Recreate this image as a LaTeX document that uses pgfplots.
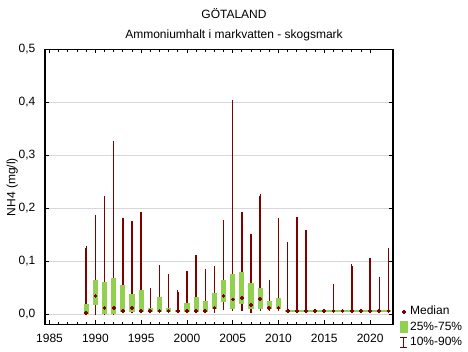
\documentclass[border=0pt]{standalone}
\usepackage{fontspec}
\setmainfont{Liberation Sans}
\usepackage{pgfplots}
\usepackage{pgfplotstable}
\pgfplotsset{compat=1.18}
\definecolor{medred}{RGB}{128,0,0}
\definecolor{boxgreen}{RGB}{146,208,80}
\definecolor{gridgray}{RGB}{215,215,215}

\pgfplotstableread{
year p10 q25 med q75 p90
1989 0.001 0.001 0.002 0.019 0.126
1990 0.001 0.018 0.035 0.065 0.184
1991 0.001 0.001 0.012 0.061 0.220
1992 0.001 0.001 0.012 0.068 0.323
1993 0.005 0.005 0.006 0.055 0.179
1994 0.005 0.005 0.012 0.038 0.172
1995 0.005 0.005 0.006 0.046 0.189
1996 0.005 0.005 0.006 0.012 0.047
1997 0.005 0.005 0.006 0.033 0.089
1998 0.005 0.005 0.006 0.012 0.072
1999 0.005 0.005 0.006 0.008 0.042
2000 0.005 0.005 0.006 0.021 0.079
2001 0.005 0.005 0.006 0.033 0.109
2002 0.005 0.005 0.006 0.025 0.083
2003 0.006 0.010 0.012 0.040 0.087
2004 0.011 0.024 0.035 0.065 0.174
2005 0.010 0.010 0.028 0.076 0.402
2006 0.010 0.020 0.031 0.080 0.190
2007 0.006 0.010 0.018 0.059 0.149
2008 0.010 0.010 0.029 0.050 0.223
2009 0.010 0.010 0.012 0.025 0.061
2010 0.010 0.010 0.012 0.031 0.179
2011 0.006 0.006 0.006 0.006 0.134
2012 0.006 0.006 0.006 0.006 0.181
2013 0.006 0.006 0.006 0.006 0.155
2014 0.006 0.006 0.006 0.006 0.006
2015 0.006 0.006 0.006 0.006 0.006
2016 0.006 0.006 0.006 0.006 0.053
2017 0.006 0.006 0.006 0.006 0.006
2018 0.006 0.006 0.006 0.006 0.091
2019 0.006 0.006 0.006 0.006 0.006
2020 0.006 0.006 0.006 0.006 0.102
2021 0.006 0.006 0.006 0.006 0.068
2022 0.006 0.006 0.006 0.006 0.121
}\datatable

\begin{document}
\begin{tikzpicture}
\path[use as bounding box] (0,0) rectangle (351pt,263.25pt);
\node[font=\fontsize{9}{11}\selectfont] at (175.5pt,252.75pt) {GÖTALAND};
\node[font=\fontsize{9}{11}\selectfont] at (175.5pt,237pt) {Ammoniumhalt i markvatten - skogsmark};
\node[rotate=90, font=\fontsize{9}{11}\selectfont] at (9.2pt,123pt) {NH4 (mg/l)};
\begin{axis}[
  at={(33.75pt,20pt)}, anchor=south west,
  scale only axis, width=261pt, height=206.25pt,
  xmin=1984.5, xmax=2022.5, ymin=-0.019, ymax=0.5,
  xtick={1985,1990,1995,2000,2005,2010,2015,2020},
  minor x tick num=4,
  ytick={0,0.1,0.2,0.3,0.4,0.5},
  tick pos=both, tick align=inside,
  major tick length=3pt, minor tick length=2pt,
  every tick/.style={black, line width=0.6pt},
  axis line style={black, line width=0.9pt},
  ymajorgrids, grid style={gridgray, line width=0.8pt},
  /pgf/number format/assume math mode=true,
  tick label style={font=\fontsize{9}{11}\selectfont},
  xticklabel style={/pgf/number format/1000 sep={}, yshift=-3.75pt},
  yticklabel style={/pgf/number format/.cd, fixed, fixed zerofill, precision=1, use comma, /tikz/.cd, xshift=-3.75pt},
  legend style={at={(1.017,0.075)}, anchor=north west, draw=none, fill=none,
    font=\fontsize{9}{11}\selectfont, inner sep=0pt, row sep=0pt,
    nodes={inner sep=1.5pt, text height=6.6pt, text depth=2pt}},
  legend cell align=left,
]
\addlegendimage{legend image code/.code={\draw[medred, line width=1.3pt] (2.6pt,0pt)--(5.4pt,0pt) (4pt,-1.4pt)--(4pt,1.4pt);}}
\addlegendentry{Median}
\addlegendimage{legend image code/.code={\fill[boxgreen] (1.2pt,-4pt) rectangle (6.8pt,4.2pt);}}
\addlegendentry{25\%-75\%}
\addlegendimage{legend image code/.code={\draw[medred, line width=1.1pt] (4pt,-3.8pt)--(4pt,3.8pt) (1.2pt,-3.8pt)--(6.8pt,-3.8pt) (1.2pt,3.8pt)--(6.8pt,3.8pt);}}
\addlegendentry{10\%-90\%}

% whiskers 10%-90%
\addplot[draw=none, mark=none, forget plot,
  error bars/.cd, y dir=both, y explicit,
  error bar style={draw=medred, line width=1.1pt},
  error mark=-, error mark options={draw=medred, mark size=1.3pt, line width=1pt}]
  table[x=year, y expr={(\thisrow{p10}+\thisrow{p90})/2}, y error expr={(\thisrow{p90}-\thisrow{p10})/2}] {\datatable};
% flat 25%-75% line for the later years
\addplot[boxgreen, line width=0.9pt, forget plot] coordinates {(2010.7,0.006) (2022.3,0.006)};
% boxes 25%-75%
\addplot[draw=none, mark=none, forget plot,
  error bars/.cd, y dir=both, y explicit,
  error bar style={draw=boxgreen, line width=3.9pt, line cap=butt},
  error mark=none]
  table[x=year, y expr={(\thisrow{q25}+\thisrow{q75})/2}, y error expr={(\thisrow{q75}-\thisrow{q25})/2}] {\datatable};
% medians
\addplot[only marks, mark=+, mark size=1.4pt, medred, line width=1.3pt, forget plot]
  table[x=year, y=med] {\datatable};
\end{axis}
\end{tikzpicture}
\end{document}
